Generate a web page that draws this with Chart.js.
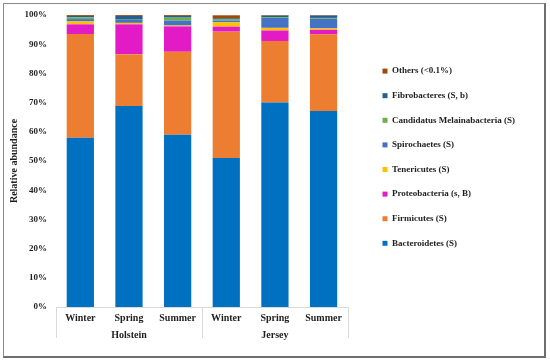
<!DOCTYPE html>
<html>
<head>
<meta charset="utf-8">
<script src="https://cdn.jsdelivr.net/npm/chart.js@4"></script>
<style>
  body { margin: 0; background: #fff; }
  #wrap { position: relative; width: 550px; height: 361px; }
  #frame {
    position: absolute; left: 3px; top: 3px; width: 540px; height: 352px;
    border: 1px solid #8a8a8a; border-right: 2px solid #6e6e6e; border-bottom: 2px solid #6e6e6e;
  }
  canvas { position: absolute; left: 0; top: 0; }
</style>
</head>
<body>
<div id="wrap">
  <div id="frame"></div>
  <canvas id="abundanceChart" width="550" height="361"></canvas>
</div>
<script>
// categories
const seasons = ["Winter", "Spring", "Summer", "Winter", "Spring", "Summer"];
const breeds = ["Holstein", "Jersey"];

// relative abundance (%), bottom to top of each bar
const bacteroidetes = [58.0, 68.8, 59.0, 51.0, 70.0, 67.1];
const firmicutes = [35.5, 17.8, 28.4, 43.3, 21.1, 26.3];
const proteobacteria = [3.3, 10.2, 8.7, 1.7, 3.6, 1.5];
const tenericutes = [1.0, 0.5, 0.3, 1.5, 0.9, 0.5];
const spirochaetes = [0.8, 1.0, 1.7, 0.6, 3.4, 3.3];
const candidatus = [0.6, 0.1, 1.0, 0.5, 0.3, 0.3];
const fibrobacteres = [0.5, 1.3, 0.6, 0.3, 0.5, 0.8];
const others = [0.3, 0.3, 0.3, 1.0, 0.2, 0.2];

const yTicks = [0, 10, 20, 30, 40, 50, 60, 70, 80, 90, 100];

const serif = "'Liberation Serif', 'Times New Roman', serif";
const textColor = "#1f1f1f";

// light separators between the breed groups, spanning both label rows
const groupLines = {
  id: "groupLines",
  afterDraw(chart) {
    const x = chart.scales.x;
    const x2 = chart.scales.x2;
    const c = chart.ctx;
    const edges = [x.left];
    for (let i = 1; i < breeds.length; i++) {
      edges.push((x2.getPixelForValue(i - 1) + x2.getPixelForValue(i)) / 2);
    }
    edges.push(x.right);
    c.save();
    c.strokeStyle = "#d9d9d9";
    c.lineWidth = 1;
    c.beginPath();
    edges.forEach((px) => {
      const xx = Math.round(px) + 0.5;
      c.moveTo(xx, x.top);
      c.lineTo(xx, x.top + 31);
    });
    c.stroke();
    c.restore();
  },
};

const ctx = document.getElementById("abundanceChart").getContext("2d");
const abundanceChart = new Chart(ctx, {
  type: "bar",
  data: {
    labels: seasons,
    datasets: [
      { label: "Bacteroidetes (S)", data: bacteroidetes, backgroundColor: "#0070C0" },
      { label: "Firmicutes (S)", data: firmicutes, backgroundColor: "#ED7D31" },
      { label: "Proteobacteria (s, B)", data: proteobacteria, backgroundColor: "#E31BC7" },
      { label: "Tenericutes (S)", data: tenericutes, backgroundColor: "#FFC000" },
      { label: "Spirochaetes (S)", data: spirochaetes, backgroundColor: "#4472C4" },
      { label: "Candidatus Melainabacteria (S)", data: candidatus, backgroundColor: "#70AD47" },
      { label: "Fibrobacteres (S, b)", data: fibrobacteres, backgroundColor: "#255E91" },
      { label: "Others (<0.1%)", data: others, backgroundColor: "#9E480E" },
    ],
  },
  options: {
    responsive: false,
    animation: false,
    categoryPercentage: 1,
    barPercentage: 0.56,
    layout: {
      padding: { top: 15, left: 8, right: 25, bottom: 20 },
    },
    scales: {
      x: {
        stacked: true,
        grid: { display: false, drawTicks: false },
        border: { display: true, color: "#d9d9d9" },
        ticks: {
          padding: 5,
          maxRotation: 0,
          autoSkip: false,
          color: textColor,
          font: { family: serif, size: 10, weight: "bold" },
        },
      },
      x2: {
        type: "category",
        labels: breeds,
        offset: true,
        grid: { display: false, drawTicks: false },
        border: { display: false },
        ticks: {
          padding: 0,
          color: textColor,
          font: { family: serif, size: 10, weight: "bold" },
        },
      },
      y: {
        stacked: true,
        min: 0,
        max: 100,
        afterBuildTicks: (scale) => {
          scale.ticks = yTicks.map((v) => ({ value: v }));
        },
        afterFit: (scale) => {
          scale.width = 48;
        },
        ticks: {
          padding: 9,
          color: textColor,
          font: { family: serif, size: 9, weight: "bold" },
          callback: (v) => v + "%",
        },
        grid: { display: false, drawTicks: false },
        border: { display: false },
        title: {
          display: true,
          text: "Relative abundance",
          color: textColor,
          font: { family: serif, size: 10, weight: "bold" },
          padding: 0,
        },
      },
      y2: {
        position: "right",
        grid: { display: false, drawTicks: false },
        border: { display: false },
        ticks: { display: false },
        afterFit: (scale) => {
          scale.width = 19;
        },
      },
    },
    plugins: {
      legend: {
        position: "right",
        align: "start",
        reverse: true,
        maxWidth: 260,
        title: { display: true, text: "", padding: { top: 24, bottom: 0 }, font: { size: 10 } },
        labels: {
          boxWidth: 5,
          boxHeight: 5,
          padding: 15.6,
          color: textColor,
          font: { family: serif, size: 9, weight: "bold" },
        },
      },
      tooltip: { enabled: false },
    },
  },
  plugins: [groupLines],
});
</script>
</body>
</html>
